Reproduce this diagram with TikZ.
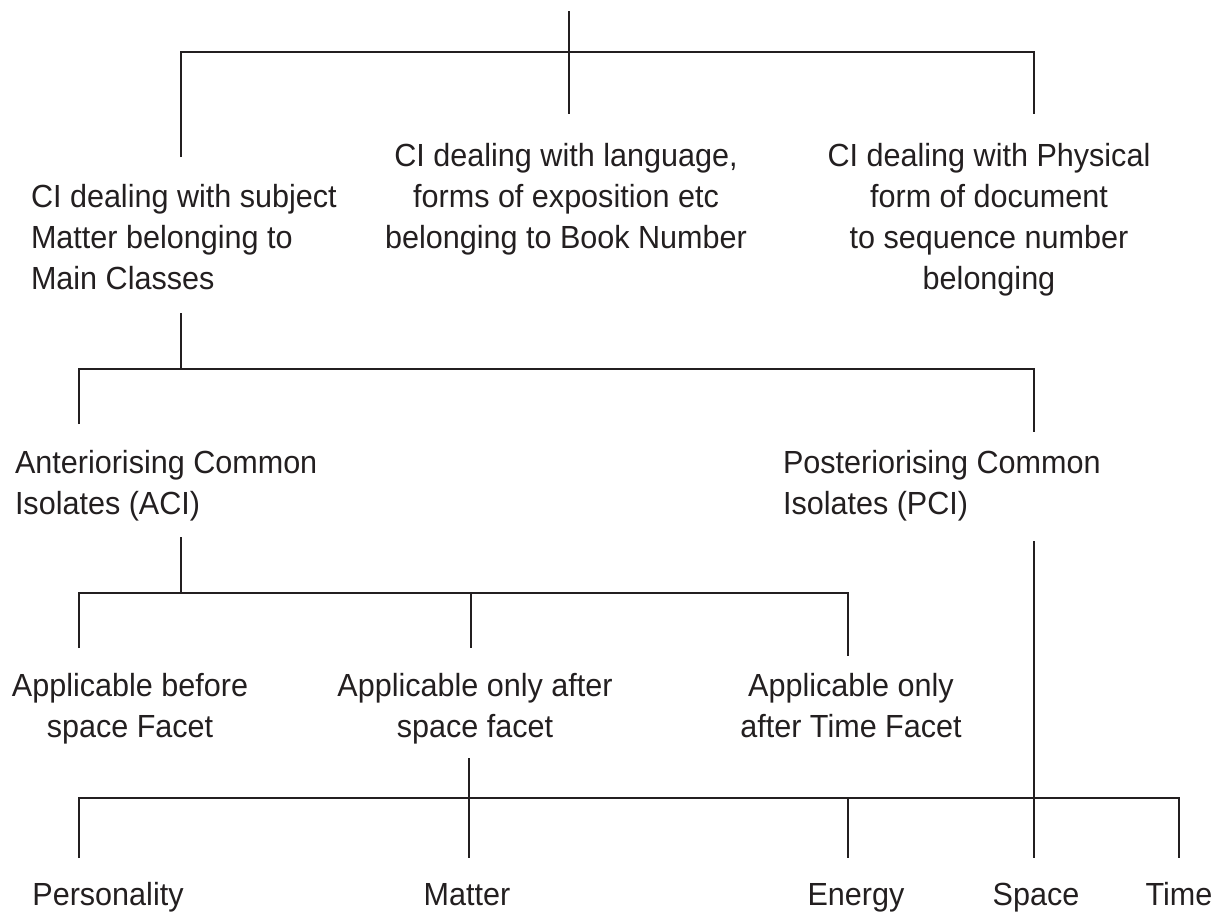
\documentclass[tikz,border=0pt]{standalone}
\usepackage{fontspec}
\setmainfont{Liberation Sans}[FakeStretch=0.955]
\definecolor{ink}{HTML}{231F20}
\begin{document}
\begin{tikzpicture}[x=1pt,y=-1pt,
  every node/.style={inner sep=0pt, outer sep=0pt, text=ink, font=\fontsize{32}{41}\selectfont},
  txtl/.style={align=left, anchor=base west},
  txtc/.style={align=center, anchor=base},
  wire/.style={draw=ink, line width=2pt, line join=miter}]
\useasboundingbox (0,0) rectangle (1221,913);

% ---- text nodes (anchor = baseline of the last line) ----
\node[txtl] (subj) at (31,289) {CI dealing with subject\\Matter belonging to\\Main Classes};
\node[txtc] (lang) at (566,248) {CI dealing with language,\\forms of exposition etc\\belonging to Book Number};
\node[txtc] (phys) at (989,289) {CI dealing with Physical\\form of document\\to sequence number\\belonging};
\node[txtl] (aci) at (15,514) {Anteriorising Common\\Isolates (ACI)};
\node[txtl] (pci) at (783,514) {Posteriorising Common\\Isolates (PCI)};
\node[txtc] (before) at (130,737) {Applicable before\\space Facet};
\node[txtc] (afterspace) at (475,737) {Applicable only after\\space facet};
\node[txtc] (aftertime) at (851,737) {Applicable only\\after Time Facet};
\node[txtc] (pers) at (108,905) {Personality};
\node[txtc] (matt) at (467,905) {Matter};
\node[txtc] (ener) at (856,905) {Energy};
\node[txtc] (spac) at (1036,905) {Space};
\node[txtc] (time) at (1179,905) {Time};

% ---- junction coordinates ----
\coordinate (root) at (569,11);
\coordinate (rootend) at (569,114);
\coordinate (b1l) at (181,52);
\coordinate (b1r) at (1034,52);
\coordinate (subjtop) at (181,157);
\coordinate (phystop) at (1034,114);

\coordinate (subjbot) at (181,313);
\coordinate (b2m) at (181,369);
\coordinate (b2l) at (79,369);
\coordinate (b2r) at (1034,369);
\coordinate (acitop) at (79,424);
\coordinate (pcitop) at (1034,432);

\coordinate (acibot) at (181,537);
\coordinate (b3m) at (181,593);
\coordinate (b3l) at (79,593);
\coordinate (b3c) at (471,593);
\coordinate (b3r) at (848,593);
\coordinate (beforetop) at (79,648);
\coordinate (afterspacetop) at (471,648);
\coordinate (aftertimetop) at (848,656);

\coordinate (pcibot) at (1034,541);
\coordinate (asbot) at (469,758);
\coordinate (b4l) at (79,798);
\coordinate (b4r) at (1179,798);
\coordinate (perstop) at (79,858);
\coordinate (matttop) at (469,858);
\coordinate (enertop) at (848,858);
\coordinate (spactop) at (1034,858);
\coordinate (timetop) at (1179,858);

% ---- connectors ----
\draw[wire] (root) -- (rootend);
\draw[wire] (subjtop) -- (b1l) -- (b1r) -- (phystop);

\draw[wire] (subjbot) -- (b2m);
\draw[wire] (acitop) -- (b2l) -- (b2r) -- (pcitop);

\draw[wire] (acibot) -- (b3m);
\draw[wire] (beforetop) -- (b3l) -- (b3r) -- (aftertimetop);
\draw[wire] (b3c) -- (afterspacetop);

\draw[wire] (pcibot) -- (spactop);
\draw[wire] (asbot) -- (matttop);
\draw[wire] (perstop) -- (b4l) -- (b4r) -- (timetop);
\draw[wire] (b4l -| enertop) -- (enertop);
\end{tikzpicture}
\end{document}
